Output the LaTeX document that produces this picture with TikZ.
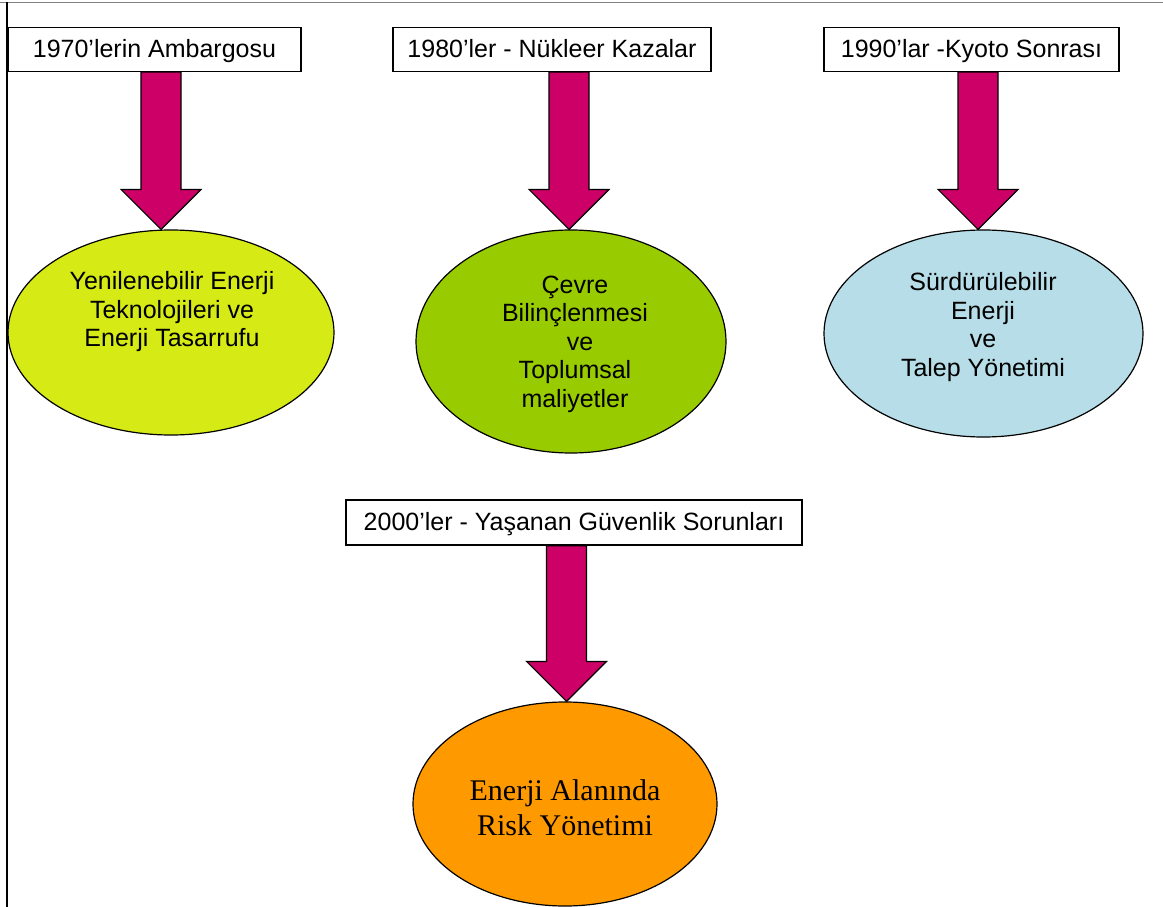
\documentclass[tikz,border=0pt]{standalone}
\usepackage{fontspec}
\setmainfont{Liberation Sans}
\newfontfamily\timesfont{Liberation Serif}
\usetikzlibrary{shapes.geometric,calc}
\definecolor{arrowmag}{RGB}{204,0,102}
\definecolor{eyellow}{RGB}{214,234,22}
\definecolor{egreen}{RGB}{153,204,0}
\definecolor{eblue}{RGB}{183,222,232}
\definecolor{eorange}{RGB}{255,153,0}
\definecolor{framegray}{RGB}{128,128,128}
\newcommand\blockarrow[2]{%
  \draw[bigarrow] ($(#1)+(-20,0)$) -- ($(#2)+(-20,-40)$) -- ($(#2)+(-40,-40)$) -- (#2)
    -- ($(#2)+(40,-40)$) -- ($(#2)+(20,-40)$) -- ($(#1)+(20,0)$) -- cycle;}
\begin{document}
\begin{tikzpicture}[x=1pt,y=-1pt,
  box/.style={draw=black, line width=1.3pt, fill=white, minimum height=44pt, inner sep=0pt,
    text height=20pt, text depth=4pt, font=\fontsize{25}{28.5}\selectfont},
  oval/.style={ellipse, draw=black, line width=1.2pt, inner sep=0pt},
  txt/.style={align=center, inner sep=0pt, font=\fontsize{25}{28.5}\selectfont},
  seriftxt/.style={align=center, inner sep=0pt, font=\timesfont\fontsize{30}{35}\selectfont},
  bigarrow/.style={draw=black, line width=1.2pt, fill=arrowmag, line join=miter}]
\useasboundingbox (0,0) rectangle (1163,907);
\draw[framegray, line width=1.5pt] (0,2.5) -- (1163,2.5);
\draw[black, line width=1.2pt] (7,2.5) -- (7,907);

% ellipses
\node[oval, fill=eyellow, minimum width=326pt, minimum height=205pt] (e1) at (171,332.5) {};
\node[oval, fill=egreen, minimum width=310pt, minimum height=223pt] (e2) at (571,341.5) {};
\node[oval, fill=eblue, minimum width=319pt, minimum height=207pt] (e3) at (983.5,333.5) {};
\node[oval, fill=eorange, minimum width=304pt, minimum height=204pt] (e4) at (565,804) {};

\node[txt] (t1) at (172,312) {Yenilenebilir Enerji\\Teknolojileri ve\\Enerji Tasarrufu};
\node[txt] (t2) at (575,344) {Çevre\\Bilinçlenmesi\\\hspace*{10pt}ve\\Toplumsal\\maliyetler};
\node[txt] (t3) at (983,327) {Sürdürülebilir\\Enerji\\ve\\Talep Yönetimi};
\node[seriftxt] (t4) at (565,808) {Enerji Alanında\\Risk Yönetimi};

% boxes
\node[box, minimum width=293pt] (b1) at (154.5,49.5) {1970’lerin Ambargosu};
\node[box, minimum width=318pt] (b2) at (552,49.5) {1980’ler - Nükleer Kazalar};
\node[box, minimum width=295pt] (b3) at (971.5,49.5) {1990’lar -Kyoto Sonrası};
\node[box, minimum width=456pt, minimum height=45pt] (b4) at (574,522.5) {2000’ler - Yaşanan Güvenlik Sorunları};

% arrow anchor points
\coordinate (a1s) at ($(b1.south)+(6.5,0)$);
\coordinate (a1t) at ($(e1.north)+(-10,0)$);
\coordinate (a2s) at ($(b2.south)+(17,0)$);
\coordinate (a2t) at ($(e2.north)+(-2,0)$);
\coordinate (a3s) at ($(b3.south)+(6.5,0)$);
\coordinate (a3t) at ($(e3.north)+(-5.5,0)$);
\coordinate (a4s) at ($(b4.south)+(-7.5,0)$);
\coordinate (a4t) at ($(e4.north)+(1.5,0)$);

\blockarrow{a1s}{a1t}
\blockarrow{a2s}{a2t}
\blockarrow{a3s}{a3t}
\blockarrow{a4s}{a4t}
\end{tikzpicture}
\end{document}
